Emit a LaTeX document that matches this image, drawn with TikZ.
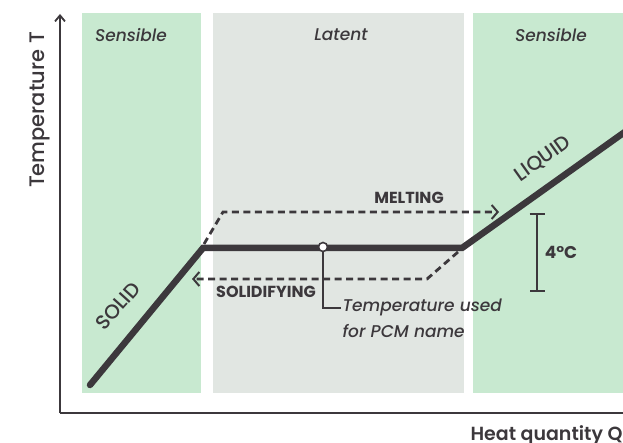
\documentclass[tikz,border=0pt]{standalone}
\usepackage{fontspec}
\setmainfont{Poppins}[UprightFont=* Medium, ItalicFont=* Medium Italic, BoldFont=* Bold, BoldItalicFont=* Bold Italic]
\newfontfamily\semib{Poppins SemiBold}
\usetikzlibrary{arrows.meta}
\definecolor{sgreen}{HTML}{C8E9D0}
\definecolor{lgray}{HTML}{E1E6E2}
\definecolor{ink}{HTML}{3C383C}
\begin{document}
\begin{tikzpicture}[x=1pt,y=-1pt,
  axis/.style={draw=ink,line width=2pt,-{Straight Barb[length=6pt,width=10pt,line width=1.8pt]}},
  curve/.style={draw=ink,line width=6.5pt,line cap=round,line join=miter},
  dline/.style={draw=ink,line width=2.8pt,dash pattern=on 7pt off 4.5pt,-{Straight Barb[length=6pt,width=14pt,line width=2pt]}},
  header/.style={text=ink,font=\fontsize{17}{20}\selectfont\itshape},
  caps/.style={text=ink,font=\fontsize{16}{19}\selectfont\bfseries},
  big/.style={text=ink,font=\fontsize{17}{20}\selectfont}]
\useasboundingbox (0,0) rectangle (623,443);
% panels
\fill[sgreen] (82,13) rectangle (201,393);
\fill[lgray] (213,13) rectangle (464,393);
\fill[sgreen] (473,13) rectangle (640,393);
% axes
\coordinate (O) at (60,413);
\coordinate (ytop) at (60,14);
\coordinate (xend) at (632,413);
\draw[axis] (O) -- (ytop);
\draw[axis] (O) -- (xend);
\node[big,font=\fontsize{21}{24}\selectfont,rotate=90] (ylab) at (40,110) {Temperature T};
\node[big,font=\fontsize{19}{22}\semib,anchor=base west] (xlab) at (467,440) {Heat quantity Q};
% headers
\node[header] (h1) at (131,35) {Sensible};
\node[header] (h2) at (341,35) {Latent};
\node[header] (h3) at (551,35) {Sensible};
% curve
\coordinate (s0) at (90,385);
\coordinate (s1) at (203,248);
\coordinate (s2) at (462,248);
\coordinate (s3) at (650,114);
\draw[curve] (s0) -- (s1) -- (s2) -- (s3);
% melting
\coordinate (m0) at (204,244);
\coordinate (m1) at (223,212);
\coordinate (m2) at (499,212);
\draw[dline] (m0) -- (m1) -- (m2);
\node[caps] (melt) at (409,198) {MELTING};
% solidifying
\coordinate (f0) at (458,252);
\coordinate (f1) at (427,279);
\coordinate (f2) at (192,279);
\draw[dline] (f0) -- (f1) -- (f2);
\node[caps] (solid) at (266,292) {SOLIDIFYING};
% PCM point
\node[circle,draw=ink,fill=white,line width=1.6pt,inner sep=0pt,minimum size=9pt] (pcm) at (323,247) {};
\node[big,font=\fontsize{17}{26}\selectfont\itshape,align=left,anchor=north west] (tu) at (339,295) {Temperature used\\for PCM name};
\draw[ink,line width=1.8pt] (pcm.south) |- ([xshift=2pt]tu.west |- 0,308);
% 4 C bracket
\coordinate (b0) at (537,213);
\coordinate (b1) at (537,292);
\draw[ink,line width=1.8pt,{Bar[width=15pt,line width=1.8pt]}-{Bar[width=15pt,line width=1.8pt]}] (b0) -- (b1);
\node[caps,font=\fontsize{17}{20}\selectfont\bfseries] (four) at (561,252) {4°C};
% state labels
\node[big,rotate=35.5,font=\fontsize{20}{22}\selectfont] (liq) at (543,159) {LIQUID};
\node[big,rotate=48,font=\fontsize{20}{22}\selectfont] (sol) at (118,306) {SOLID};
\end{tikzpicture}
\end{document}
